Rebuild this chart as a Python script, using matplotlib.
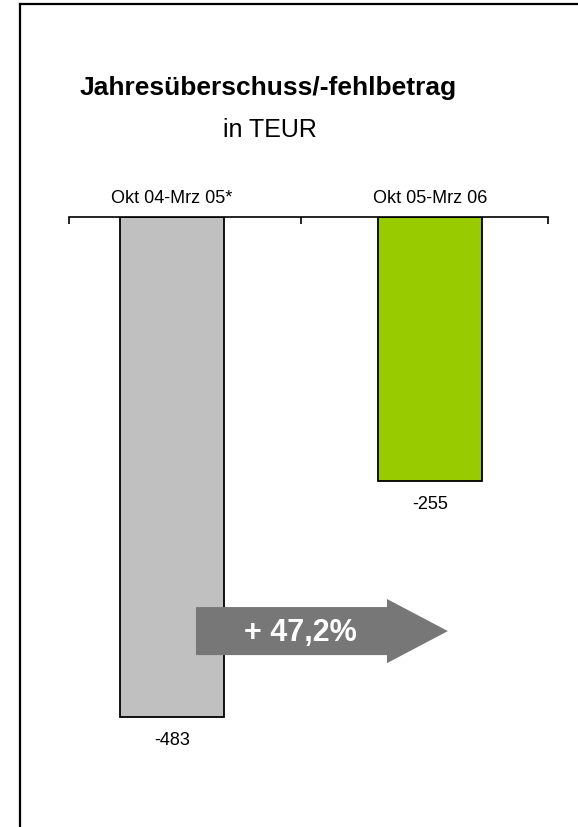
import matplotlib.pyplot as plt
from matplotlib.patches import FancyArrow
from matplotlib.lines import Line2D

plt.rcParams['font.family'] = ['Liberation Sans', 'DejaVu Sans']

categories = ['Okt 04-Mrz 05*', 'Okt 05-Mrz 06']
values = [-483, -255]
colors = ['#c0c0c0', '#99cc00']
change_label = '+ 47,2%'

fig = plt.figure(figsize=(5.78, 8.27), dpi=100)

# frame (left + top only, rest cut off)
fig.add_artist(Line2D([20 / 578, 20 / 578], [0, 1 - 4 / 827], color='black', lw=1.6))
fig.add_artist(Line2D([20 / 578, 1], [1 - 4 / 827, 1 - 4 / 827], color='black', lw=1.6))

fig.text(268 / 578, 1 - 88 / 827, 'Jahresüberschuss/-fehlbetrag', ha='center', va='center',
         fontsize=19, fontweight='bold')
fig.text(270 / 578, 1 - 130 / 827, 'in TEUR', ha='center', va='center', fontsize=18)

ax = fig.add_axes([69 / 578, 1 - 776 / 827, 479 / 578, 559 / 827])
x = list(range(len(categories)))
ax.bar(x, values, width=0.403, color=colors, edgecolor='black', linewidth=1.3)
ax.set_xlim(-0.399, 1.457)
ax.set_ylim(-540, 0)

for spine in ['left', 'right', 'bottom']:
    ax.spines[spine].set_visible(False)
ax.spines['top'].set_linewidth(1.2)
ax.xaxis.tick_top()
ax.set_xticks(x, categories)
ax.set_xticks([-0.399, 0.5, 1.457], minor=True)
ax.tick_params(axis='x', which='major', length=0, pad=7, labelsize=13)
ax.tick_params(axis='x', which='minor', top=True, bottom=False, direction='in', length=5, width=1.2)
ax.set_yticks([])

for xi, v in zip(x, values):
    ax.annotate(str(v), (xi, v), xytext=(0, -17), textcoords='offset points',
                ha='center', va='center', fontsize=13)

# change arrow
arr = FancyArrow(0.093, -400, 0.74, 0, width=46.4, head_width=62, head_length=0.236,
                 length_includes_head=False, color='#777777', linewidth=0, zorder=5)
ax.add_patch(arr)
ax.text(0.496, -402, change_label, ha='center', va='center', color='white',
        fontsize=22, fontweight='bold', zorder=6)

fig.savefig('out.png', dpi=100)
